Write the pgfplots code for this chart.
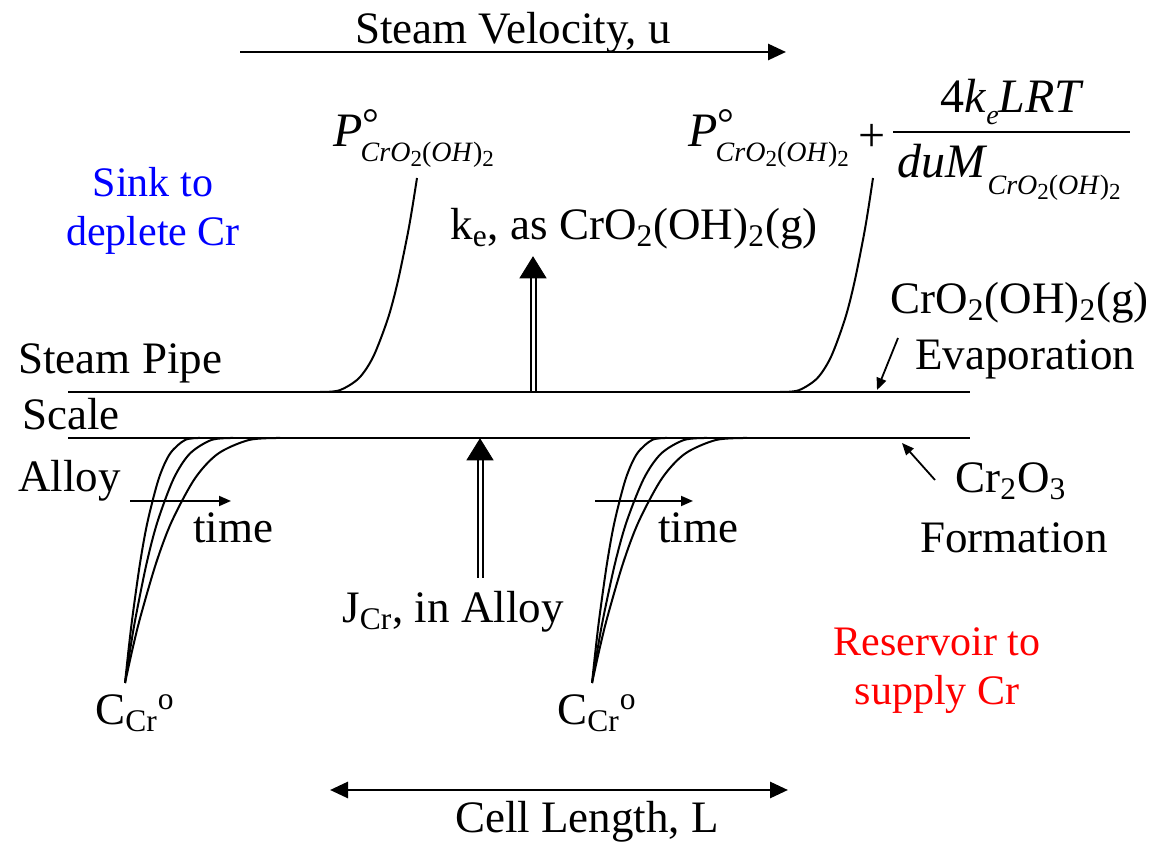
\documentclass[border=0pt]{standalone}
\usepackage{pgfplots}
\pgfplotsset{compat=1.18}
\usepackage{fontspec}
\setmainfont{Liberation Serif}
\usetikzlibrary{arrows.meta}
\definecolor{myblue}{RGB}{0,0,255}
\definecolor{myred}{RGB}{255,0,0}
\newcommand\subtwo{\raisebox{-2.5pt}{\fontsize{11.5}{12}\selectfont 2}}
\newcommand\species{{\fontsize{14}{15}\selectfont\textit{CrO}\subtwo(\textit{OH})\subtwo}}
\newcommand\Psat{{\fontsize{24}{26}\selectfont\textit{P}}\rlap{\raisebox{4.5pt}{\fontsize{21}{21}\selectfont °}}\hspace{-1pt}\raisebox{-7.5pt}{\species}}
\begin{document}
\begin{tikzpicture}[font=\fontsize{22.5}{27}\selectfont]
\begin{axis}[scale only axis, width=575.5pt, height=422pt,
  xmin=0, xmax=1151, ymin=0, ymax=844, hide axis, clip=false]
\path (axis cs:0,0) rectangle (axis cs:1151,844);
% layers
\addplot[black, line width=1.3pt] coordinates {(68,452) (970,452)};
\addplot[black, line width=1.3pt] coordinates {(68,406) (970,406)};
% top and bottom arrows
\addplot[black, line width=1.4pt, -{Triangle[length=9pt,width=8pt]}] coordinates {(240,792) (786,792)};
\addplot[black, line width=1.4pt, {Triangle[length=9pt,width=8pt]}-{Triangle[length=9pt,width=8pt]}] coordinates {(330,54) (788,54)};
% time arrows
\addplot[black, line width=0.9pt, -{Triangle[length=6pt,width=5pt]}] coordinates {(130,343) (231,343)};
\addplot[black, line width=0.9pt, -{Triangle[length=6pt,width=5pt]}] coordinates {(595,343) (693,343)};
% pointer arrows
\addplot[black, line width=0.9pt, -{Triangle[length=6pt,width=5pt]}] coordinates {(898,506) (877,454)};
\addplot[black, line width=0.9pt, -{Triangle[length=6pt,width=5pt]}] coordinates {(935,364) (902,401)};
% double arrows
\addplot[black, line width=1pt] coordinates {(530.5,452) (530.5,567)};
\addplot[black, line width=1pt] coordinates {(535.5,452) (535.5,567)};
\addplot[black, fill=black] coordinates {(520,566) (546,566) (533,587)} --cycle;
\addplot[black, line width=1pt] coordinates {(477.5,266) (477.5,385)};
\addplot[black, line width=1pt] coordinates {(482.5,266) (482.5,385)};
\addplot[black, fill=black] coordinates {(467,384) (493,384) (480,405)} --cycle;
% alloy profiles, left
\addplot[black, line width=1pt, smooth] coordinates {(125,161) (128.75,196) (132.5,227.4) (140,280.6) (147.5,322) (158.75,365.3) (170,390.3) (185,404) (200,406)};
\addplot[black, line width=1pt, smooth] coordinates {(125,161) (130.4,196) (135.8,227.4) (146.6,280.6) (157.4,322) (173.6,365.3) (189.8,390.3) (211.4,404) (233,406)};
\addplot[black, line width=1pt, smooth] coordinates {(125,161) (132.75,196) (140.5,227.4) (156,280.6) (171.5,322) (194.75,365.3) (218,390.3) (249,404) (280,406)};
% alloy profiles, right
\addplot[black, line width=1pt, smooth] coordinates {(592,161) (595.75,196) (599.5,227.4) (607,280.6) (614.5,322) (625.75,365.3) (637,390.3) (652,404) (667,406)};
\addplot[black, line width=1pt, smooth] coordinates {(592,161) (597.75,196) (603.5,227.4) (615,280.6) (626.5,322) (643.75,365.3) (661,390.3) (684,404) (707,406)};
\addplot[black, line width=1pt, smooth] coordinates {(592,161) (599.75,196) (607.5,227.4) (623,280.6) (638.5,322) (661.75,365.3) (685,390.3) (716,404) (747,406)};
% gas profiles
\addplot[black, line width=1pt, smooth] coordinates {(320,452) (339.4,453.7) (358.8,465.7) (373.35,487.5) (387.9,525.4) (397.6,561.6) (407.3,608) (412.15,635.4) (417,666)};
\addplot[black, line width=1pt, smooth] coordinates {(780,452) (798.6,453.7) (817.2,465.7) (831.15,487.5) (845.1,525.4) (854.4,561.6) (863.7,608) (868.35,635.4) (873,666)};
% fraction bar
\addplot[black, line width=1pt] coordinates {(893,712) (1130,712)};
% texts
\node[anchor=base] at (axis cs:513,800) {Steam Velocity, u};
\node[anchor=base, text=myblue, font=\fontsize{21}{25}\selectfont] at (axis cs:153,647) {Sink to};
\node[anchor=base, text=myblue, font=\fontsize{21}{25}\selectfont] at (axis cs:153,598) {deplete Cr};
\node[anchor=base west, inner sep=0pt] at (axis cs:18,470) {Steam Pipe};
\node[anchor=base west, inner sep=0pt] at (axis cs:22,414) {Scale};
\node[anchor=base west, inner sep=0pt] at (axis cs:18,352) {Alloy};
\node[anchor=base west, inner sep=0pt] at (axis cs:193,301) {time};
\node[anchor=base west, inner sep=0pt] at (axis cs:658,301) {time};
\node[anchor=base west, inner sep=0pt] at (axis cs:333,697) {\Psat};
\node[anchor=base west, inner sep=0pt] at (axis cs:450,604) {k\textsubscript{e}, as CrO\textsubscript{2}(OH)\textsubscript{2}(g)};
\node[anchor=base west, inner sep=0pt] at (axis cs:688,697) {\Psat};
\node[anchor=center, inner sep=0pt, font=\fontsize{24}{26}\selectfont] at (axis cs:872,706) {+};
\node[anchor=base west, inner sep=0pt] at (axis cs:940,731) {{\fontsize{24}{26}\selectfont 4\textit{k}}\raisebox{-6pt}{\fontsize{14}{14}\selectfont\textit{e}}{\fontsize{24}{26}\selectfont\textit{LRT}}};
\node[anchor=base west, inner sep=0pt] at (axis cs:897,666) {{\fontsize{24}{26}\selectfont\textit{duM}}\raisebox{-8.5pt}{\species}};
\node[anchor=base west, inner sep=0pt] at (axis cs:890,530) {CrO\textsubscript{2}(OH)\textsubscript{2}(g)};
\node[anchor=base west, inner sep=0pt] at (axis cs:915,474) {Evaporation};
\node[anchor=base west, inner sep=0pt] at (axis cs:955,351) {Cr\textsubscript{2}O\textsubscript{3}};
\node[anchor=base west, inner sep=0pt] at (axis cs:920,291) {Formation};
\node[anchor=base west, inner sep=0pt] at (axis cs:342,221) {J\textsubscript{Cr}, in Alloy};
\node[anchor=base, text=myred, font=\fontsize{21}{25}\selectfont] at (axis cs:937,188) {Reservoir to};
\node[anchor=base, text=myred, font=\fontsize{21}{25}\selectfont] at (axis cs:937,139) {supply Cr};
\node[anchor=base west, inner sep=0pt] at (axis cs:95,119) {C\textsubscript{Cr}\textsuperscript{o}};
\node[anchor=base west, inner sep=0pt] at (axis cs:557,119) {C\textsubscript{Cr}\textsuperscript{o}};
\node[anchor=base] at (axis cs:587,11) {Cell Length, L};
\end{axis}
\end{tikzpicture}
\end{document}
